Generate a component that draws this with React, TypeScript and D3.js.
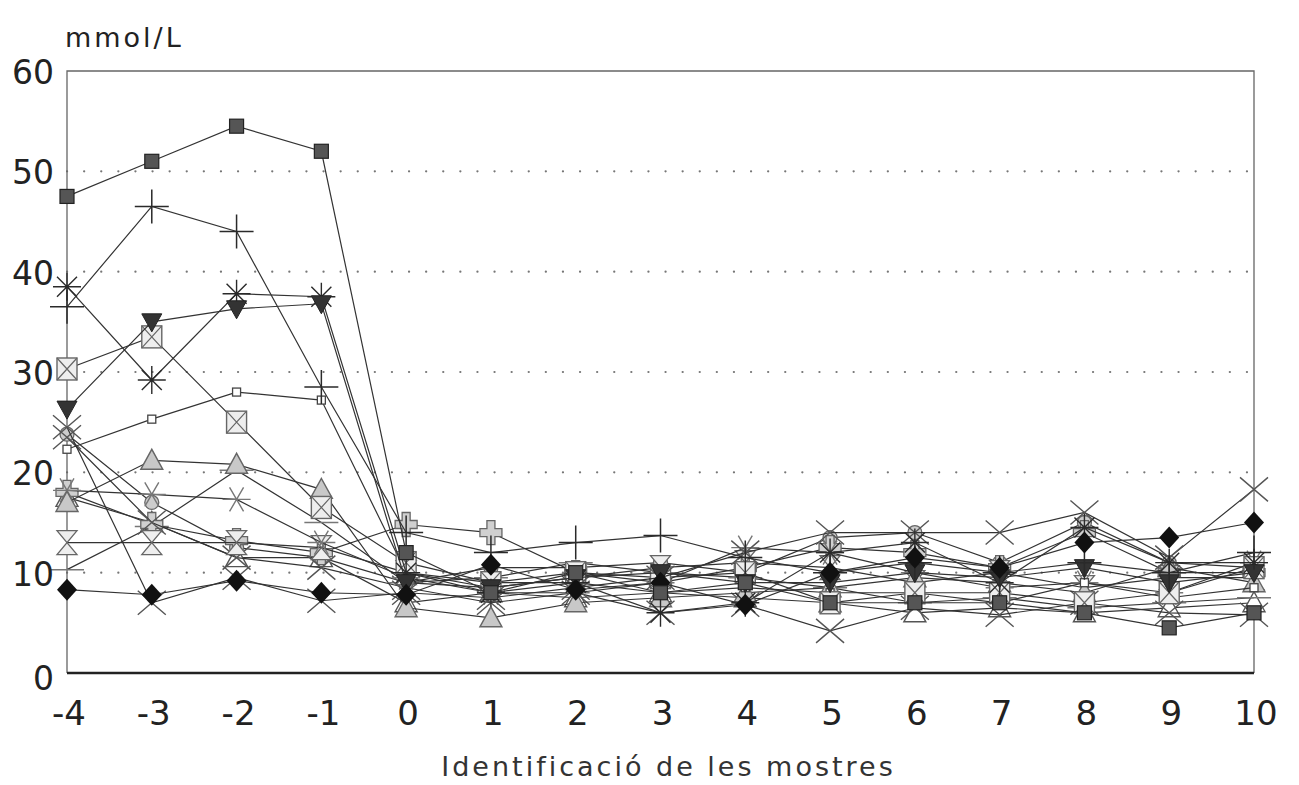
import { useRef, useEffect } from 'react';
import * as d3 from 'd3';

// sample ids on the x axis
const samples = [-4, -3, -2, -1, 0, 1, 2, 3, 4, 5, 6, 7, 8, 9, 10];
const yTicks = [0, 10, 20, 30, 40, 50, 60];
const gridTicks = [10, 20, 30, 40, 50];

// one array per patient / series (mmol/L)
const sqFill    = [47.5, 51, 54.5, 52, 12, 8, 10, 8, 9, 7, 7, 7, 6, 4.5, 6];
const plus      = [36.5, 46.5, 44, 28.5, 14, 12, 13, 13.7, 11.5, 10, 11, 10, 11, 10, 12];
const asterisk  = [38.5, 29.2, 37.8, 37.5, 10, 8, 9, 6, 7, 12, 13, 9, 14.5, 11, 11];
const triDown   = [26.3, 35, 36.3, 36.8, 9, 8.5, 9.5, 10, 9, 9, 10, 9.5, 10.5, 9, 10];
const boxX      = [30.3, 33.5, 25, 16.5, 11, 9, 10, 9.5, 10, 7, 8, 8, 7, 8, 10.5];
const smallSq   = [22.3, 25.3, 28, 27.2, 10, 9, 9, 8, 8.5, 8, 8, 7, 9, 7.5, 8.5];
const triUp     = [17, 21.2, 20.8, 18.3, 6.5, 5.5, 7, 7.5, 8, 8.5, 9.5, 9, 8, 10.5, 9];
const star6     = [18.2, 17.8, 17.3, 13, 9.5, 8, 8, 9, 12.5, 12, 10, 8.5, 9, 8, 11];
const hourglass = [13, 13, 13, 12.5, 10, 8.5, 9.5, 10.5, 11, 10.5, 9, 10, 8.5, 9.5, 9.5];
const diamond   = [8.3, 7.8, 9.2, 8, 7.8, 10.8, 8.3, 9, 6.8, 10, 11.5, 10.5, 13, 13.5, 15];
const crossA    = [24.5, 7, 9.5, 7.2, 8, 7.5, 8.5, 9.5, 12, 14, 14, 14, 16, 11.5, 18.3];
const crossB    = [23.5, 15, 11.5, 10.5, 8.5, 7, 8, 6, 6.8, 4.2, 6.5, 5.8, 7, 6, 5.8];
const fatCross  = [18, 14.8, 13.2, 12, 14.8, 14, 10, 9, 10.5, 12.5, 12, 10.5, 14, 10, 10];
const circ      = [23.8, 17, 12.5, 11.5, 9, 10.5, 10.5, 11, 10, 13.5, 14, 11, 15, 11, 10.5];
const dash      = [10.3, 14.6, 20.2, 15, 9, 9.5, 11, 10, 9.5, 8.5, 7, 7.5, 6.5, 7, 7.5];
const triOpen   = [17.5, 15, 11.5, 11.5, 7, 8, 7.5, 8, 7.5, 7, 6, 6.5, 6, 6.5, 7];

const series = [
  { key: 'triOpen', values: triOpen },
  { key: 'dash', values: dash },
  { key: 'circ', values: circ },
  { key: 'fatCross', values: fatCross },
  { key: 'crossB', values: crossB },
  { key: 'hourglass', values: hourglass },
  { key: 'star6', values: star6 },
  { key: 'triUp', values: triUp },
  { key: 'smallSq', values: smallSq },
  { key: 'boxX', values: boxX },
  { key: 'crossA', values: crossA },
  { key: 'asterisk', values: asterisk },
  { key: 'triDown', values: triDown },
  { key: 'plus', values: plus },
  { key: 'diamond', values: diamond },
  { key: 'sqFill', values: sqFill },
];

export default function App() {
  const svgRef = useRef<SVGSVGElement>(null);

  useEffect(() => {
    const w = 1299, h = 785;
    const m = { t: 71, r: 45, b: 112, l: 67 };

    const x = d3.scaleLinear().domain([-4, 10]).range([m.l, w - m.r]);
    const y = d3.scaleLinear().domain([0, 60]).range([h - m.b, m.t]);

    const svg = d3.select(svgRef.current)
      .attr('width', w).attr('height', h)
      .style('font-family', '"DejaVu Sans", "Liberation Sans", Arial, sans-serif');
    svg.selectAll('*').remove();
    svg.append('rect').attr('width', w).attr('height', h).attr('fill', '#fff');

    // dotted grid
    svg.append('g')
      .selectAll('line')
      .data(gridTicks)
      .join('line')
        .attr('x1', m.l).attr('x2', w - m.r)
        .attr('y1', d => y(d)).attr('y2', d => y(d))
        .attr('stroke', '#777').attr('stroke-width', 2.2)
        .attr('stroke-linecap', 'round')
        .attr('stroke-dasharray', '0.1 17');

    // frame
    svg.append('path')
      .attr('d', `M${m.l},${h - m.b}V${m.t}H${w - m.r}V${h - m.b}`)
      .attr('fill', 'none').attr('stroke', '#666').attr('stroke-width', 1.3);

    const line = d3.line<number>()
      .x((_, i) => x(samples[i]))
      .y(d => y(d));

    const dark = '#2a2a2a';

    function marker(g: any, key: string) {
      switch (key) {
        case 'sqFill':
          g.append('rect').attr('x', -7).attr('y', -7).attr('width', 14).attr('height', 14)
            .attr('fill', '#555').attr('stroke', '#222').attr('stroke-width', 1.2);
          break;
        case 'plus':
          g.append('path').attr('d', 'M-17,0H17M0,-17V17').attr('stroke', dark).attr('stroke-width', 1.5);
          break;
        case 'asterisk':
          g.append('path').attr('d', 'M-14,0H14M0,-14V14M-10,-10L10,10M-10,10L10,-10')
            .attr('stroke', dark).attr('stroke-width', 1.4);
          break;
        case 'triDown':
          g.append('path').attr('d', 'M-10,-8H10L0,10Z').attr('fill', '#333').attr('stroke', '#222');
          break;
        case 'boxX':
          g.append('rect').attr('x', -10).attr('y', -11).attr('width', 20).attr('height', 22)
            .attr('fill', '#eee').attr('stroke', '#666').attr('stroke-width', 1.4);
          g.append('path').attr('d', 'M-10,-11L10,11M-10,11L10,-11').attr('stroke', '#666').attr('stroke-width', 1.2);
          break;
        case 'smallSq':
          g.append('rect').attr('x', -4).attr('y', -4).attr('width', 8).attr('height', 8)
            .attr('fill', '#fff').attr('stroke', '#444').attr('stroke-width', 1.3);
          break;
        case 'triUp':
          g.append('path').attr('d', 'M-11,9H11L0,-11Z').attr('fill', '#c8c8c8').attr('stroke', '#666').attr('stroke-width', 1.4);
          break;
        case 'star6':
          g.append('path').attr('d', 'M-14,0H14M-7,-12L7,12M-7,12L7,-12')
            .attr('stroke', '#777').attr('stroke-width', 1.4);
          break;
        case 'hourglass':
          g.append('path').attr('d', 'M-10,-12H10L-10,12H10Z').attr('fill', '#eee').attr('stroke', '#666').attr('stroke-width', 1.3);
          break;
        case 'diamond':
          g.append('path').attr('d', 'M0,-11L10,0L0,11L-10,0Z').attr('fill', '#111');
          break;
        case 'crossA':
        case 'crossB':
          g.append('path').attr('d', 'M-14,-12L14,12M-14,12L14,-12').attr('stroke', '#555').attr('stroke-width', 1.4);
          break;
        case 'fatCross':
          g.append('path').attr('d', 'M-4,-12H4V-4H11V4H4V12H-4V4H-11V-4H-4Z')
            .attr('fill', '#d0d0d0').attr('stroke', '#666').attr('stroke-width', 1.3);
          break;
        case 'circ':
          g.append('circle').attr('r', 7).attr('fill', '#ccc').attr('stroke', '#666').attr('stroke-width', 1.3);
          break;
        case 'dash':
          g.append('path').attr('d', 'M-17,0H17').attr('stroke', '#777').attr('stroke-width', 1.5);
          break;
        case 'triOpen':
          g.append('path').attr('d', 'M-11,9H11L0,-11Z').attr('fill', '#fff').attr('stroke', '#555').attr('stroke-width', 1.4);
          break;
      }
    }

    series.forEach(s => {
      const g = svg.append('g');
      g.append('path')
        .datum(s.values)
        .attr('fill', 'none')
        .attr('stroke', '#333')
        .attr('stroke-width', 1.2)
        .attr('d', line);
      g.selectAll('g.pt')
        .data(s.values)
        .join('g')
          .attr('class', 'pt')
          .attr('transform', (d: number, i: number) => `translate(${x(samples[i])},${y(d)})`)
          .each(function () { marker(d3.select(this), s.key); });
    });

    // bottom axis line
    svg.append('line')
      .attr('x1', m.l).attr('x2', w - m.r)
      .attr('y1', y(0)).attr('y2', y(0))
      .attr('stroke', '#222').attr('stroke-width', 2.5);

    // y tick labels
    svg.append('g')
      .selectAll('text')
      .data(yTicks)
      .join('text')
        .attr('x', m.l - 13)
        .attr('y', d => y(d) + (d === 0 ? 17 : 13))
        .attr('text-anchor', 'end')
        .attr('fill', '#222')
        .style('font-size', '33px')
        .text(d => d);

    // x tick labels
    svg.append('g')
      .selectAll('text')
      .data(samples)
      .join('text')
        .attr('x', d => x(d) + 2)
        .attr('y', h - m.b + 52)
        .attr('text-anchor', 'middle')
        .attr('fill', '#222')
        .style('font-size', '34px')
        .text(d => d);

    svg.append('text')
      .attr('x', m.l - 2).attr('y', 47)
      .attr('fill', '#222')
      .style('font-size', '27px')
      .style('letter-spacing', '3px')
      .text('mmol/L');

    svg.append('text')
      .attr('x', (m.l + w - m.r) / 2 + 8).attr('y', 776)
      .attr('text-anchor', 'middle')
      .attr('fill', '#333')
      .style('font-size', '27px')
      .style('letter-spacing', '3px')
      .text('Identificació de les mostres');
  }, []);

  return (
    <div style={{ position: 'absolute', left: 0, top: 0 }}>
      <svg ref={svgRef} style={{ display: 'block' }}></svg>
    </div>
  );
}
